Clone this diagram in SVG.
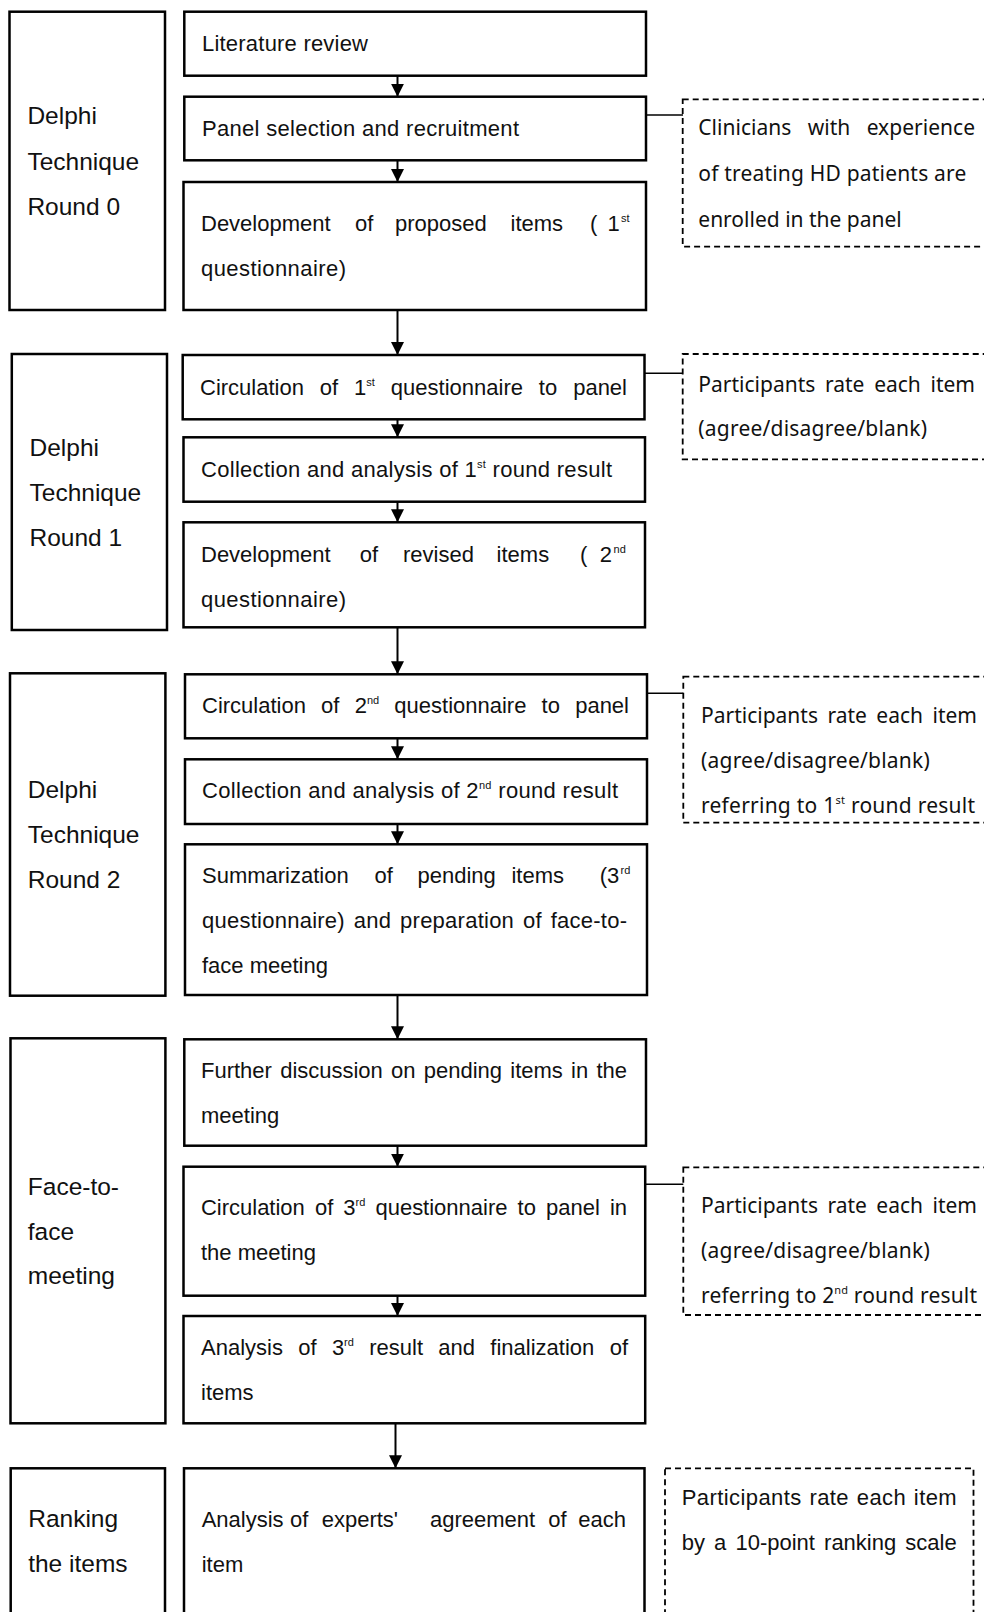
<svg xmlns="http://www.w3.org/2000/svg" width="984" height="1612" viewBox="0 0 984 1612">
<style>
.box{fill:#fff;stroke:#000;stroke-width:2.5}
.dash{fill:none;stroke:#000;stroke-width:1.8;stroke-dasharray:6 4}
.t{font-family:"Liberation Sans",Arial,sans-serif;font-size:22px;fill:#111}
.l{font-family:"Liberation Sans",Arial,sans-serif;font-size:24.5px;fill:#111}
.d{font-family:"Noto Sans","Liberation Sans",sans-serif;font-size:21px;fill:#111}
.sup{font-size:11px}
.arr{stroke:#000;stroke-width:2;fill:none;marker-end:url(#ah)}
.con{stroke:#000;stroke-width:1.5;fill:none}
</style>
<defs>
<marker id="ah" markerUnits="userSpaceOnUse" markerWidth="13" markerHeight="13" refX="13" refY="6.5" orient="auto">
<path d="M0,0 L13,6.5 L0,13 z" fill="#000"/>
</marker>
</defs>
<rect width="984" height="1612" fill="#fff"/>

<!-- Round 0 -->
<g id="label-round0">
<rect class="box" x="9.5" y="11.7" width="155.5" height="298.3"/>
<text class="l" x="27.4" y="124">Delphi</text>
<text class="l" x="27.4" y="170">Technique</text>
<text class="l" x="27.4" y="215">Round 0</text>
</g>
<g id="n-literature">
<rect class="box" x="184.3" y="11.7" width="461.7" height="64"/>
<text class="t" x="202" y="51" textLength="166" lengthAdjust="spacing">Literature review</text>
</g>
<g id="n-panel">
<rect class="box" x="184.3" y="96.7" width="461.7" height="63.6"/>
<text class="t" x="202" y="136" textLength="317" lengthAdjust="spacing">Panel selection and recruitment</text>
</g>
<g id="n-dev1">
<rect class="box" x="183.5" y="182" width="462.5" height="128"/>
<text class="t" y="231"><tspan x="201">Development</tspan><tspan x="355">of</tspan><tspan x="395">proposed</tspan><tspan x="510.5">items</tspan><tspan x="590">(</tspan><tspan x="607.6">1</tspan><tspan class="sup" x="621" y="222">st</tspan></text>
<text class="t" x="201" y="276" textLength="145" lengthAdjust="spacing">questionnaire)</text>
</g>
<g id="note-clinicians">
<rect class="dash" x="682.7" y="99.3" width="320" height="147.4"/>
<text class="d" x="698.3" y="135" word-spacing="10.9" textLength="276.7" lengthAdjust="spacing">Clinicians with experience</text>
<text class="d" x="698.3" y="181" textLength="268" lengthAdjust="spacing">of treating HD patients are</text>
<text class="d" x="698.3" y="226.7">enrolled in the panel</text>
</g>

<!-- Round 1 -->
<g id="label-round1">
<rect class="box" x="11.8" y="354" width="155.2" height="276"/>
<text class="l" x="29.5" y="456">Delphi</text>
<text class="l" x="29.5" y="500.7">Technique</text>
<text class="l" x="29.5" y="546">Round 1</text>
</g>
<g id="n-circ1">
<rect class="box" x="182.7" y="355" width="461.8" height="64.3"/>
<text class="t" x="200" y="395" word-spacing="9.8" textLength="427" lengthAdjust="spacing">Circulation of 1<tspan class="sup" dy="-9">st</tspan><tspan dy="9"> questionnaire to panel</tspan></text>
</g>
<g id="n-coll1">
<rect class="box" x="183.5" y="437.3" width="461.5" height="64.4"/>
<text class="t" x="201" y="476.7" textLength="411" lengthAdjust="spacing">Collection and analysis of 1<tspan class="sup" dy="-9">st</tspan><tspan dy="9"> round result</tspan></text>
</g>
<g id="n-dev2">
<rect class="box" x="183.5" y="522.3" width="461.5" height="105"/>
<text class="t" y="561.7"><tspan x="201">Development</tspan><tspan x="359.8">of</tspan><tspan x="403">revised</tspan><tspan x="496.6">items</tspan><tspan x="580">(</tspan><tspan x="599.7">2</tspan><tspan class="sup" x="613.6" y="552.7">nd</tspan></text>
<text class="t" x="201" y="606.7" textLength="145" lengthAdjust="spacing">questionnaire)</text>
</g>
<g id="note-round1">
<rect class="dash" x="682.7" y="354" width="320" height="105.3"/>
<text class="d" x="698.3" y="391.7" word-spacing="4.2" textLength="276.7" lengthAdjust="spacing">Participants rate each item</text>
<text class="d" x="698.3" y="435.5" textLength="228.7" lengthAdjust="spacing">(agree/disagree/blank)</text>
</g>

<!-- Round 2 -->
<g id="label-round2">
<rect class="box" x="10" y="673.3" width="155.4" height="322.4"/>
<text class="l" x="27.8" y="797.7">Delphi</text>
<text class="l" x="27.8" y="842.7">Technique</text>
<text class="l" x="27.8" y="887.7">Round 2</text>
</g>
<g id="n-circ2">
<rect class="box" x="185" y="674.3" width="462" height="64"/>
<text class="t" x="202" y="713.3" word-spacing="9.1" textLength="427" lengthAdjust="spacing">Circulation of 2<tspan class="sup" dy="-9">nd</tspan><tspan dy="9"> questionnaire to panel</tspan></text>
</g>
<g id="n-coll2">
<rect class="box" x="185" y="759.3" width="462" height="64.7"/>
<text class="t" x="202" y="798.3" textLength="416" lengthAdjust="spacing">Collection and analysis of 2<tspan class="sup" dy="-9">nd</tspan><tspan dy="9"> round result</tspan></text>
</g>
<g id="n-summ">
<rect class="box" x="185" y="844.3" width="462" height="150.7"/>
<text class="t" y="883.3"><tspan x="202">Summarization</tspan><tspan x="374.6">of</tspan><tspan x="417.5">pending</tspan><tspan x="511.4">items</tspan><tspan x="599.7">(3</tspan><tspan class="sup" x="620.5" y="874.3">rd</tspan></text>
<text class="t" x="202" y="928.3" word-spacing="2.5" textLength="425" lengthAdjust="spacing">questionnaire) and preparation of face-to-</text>
<text class="t" x="202" y="973.3">face meeting</text>
</g>
<g id="note-round2">
<rect class="dash" x="683.3" y="676.7" width="320" height="146"/>
<text class="d" x="701" y="723.3" word-spacing="4" textLength="276" lengthAdjust="spacing">Participants rate each item</text>
<text class="d" x="701" y="768.3" textLength="228.7" lengthAdjust="spacing">(agree/disagree/blank)</text>
<text class="d" x="701" y="813.3" textLength="274" lengthAdjust="spacing">referring to 1<tspan class="sup" dy="-9">st</tspan><tspan dy="9"> round result</tspan></text>
</g>

<!-- Face-to-face meeting -->
<g id="label-face">
<rect class="box" x="10.5" y="1038.3" width="154.9" height="385"/>
<text class="l" x="27.8" y="1195">Face-to-</text>
<text class="l" x="27.8" y="1240">face</text>
<text class="l" x="27.8" y="1284">meeting</text>
</g>
<g id="n-discuss">
<rect class="box" x="184.3" y="1039.3" width="461.7" height="106.4"/>
<text class="t" x="201" y="1078.3" word-spacing="2.1" textLength="426" lengthAdjust="spacing">Further discussion on pending items in the</text>
<text class="t" x="201" y="1123.3">meeting</text>
</g>
<g id="n-circ3">
<rect class="box" x="183.5" y="1166.7" width="461.7" height="129"/>
<text class="t" x="201" y="1215" word-spacing="4" textLength="426" lengthAdjust="spacing">Circulation of 3<tspan class="sup" dy="-9">rd</tspan><tspan dy="9"> questionnaire to panel in</tspan></text>
<text class="t" x="201" y="1260">the meeting</text>
</g>
<g id="n-final">
<rect class="box" x="183.5" y="1316" width="461.7" height="107.3"/>
<text class="t" x="201" y="1355" word-spacing="9.2" textLength="427" lengthAdjust="spacing">Analysis of 3<tspan class="sup" dy="-9">rd</tspan><tspan dy="9"> result and finalization of</tspan></text>
<text class="t" x="201" y="1400">items</text>
</g>
<g id="note-face">
<rect class="dash" x="683.3" y="1167.3" width="320" height="147.7"/>
<text class="d" x="701" y="1213.3" word-spacing="4" textLength="276" lengthAdjust="spacing">Participants rate each item</text>
<text class="d" x="701" y="1258.3" textLength="228.7" lengthAdjust="spacing">(agree/disagree/blank)</text>
<text class="d" x="701" y="1303.3" textLength="276" lengthAdjust="spacing">referring to 2<tspan class="sup" dy="-9">nd</tspan><tspan dy="9"> round result</tspan></text>
</g>

<!-- Ranking -->
<g id="label-ranking">
<rect class="box" x="10.7" y="1468.3" width="154.3" height="170"/>
<text class="l" x="28.2" y="1527.3">Ranking</text>
<text class="l" x="28.2" y="1571.7">the items</text>
</g>
<g id="n-agree">
<rect class="box" x="184" y="1468.3" width="460.5" height="170"/>
<text class="t" y="1527.3"><tspan x="201.7">Analysis</tspan><tspan x="290">of</tspan><tspan x="321.7">experts'</tspan><tspan x="430">agreement</tspan><tspan x="548.3">of</tspan><tspan x="578.3">each</tspan></text>
<text class="t" x="201.7" y="1571.7">item</text>
</g>
<g id="note-ranking">
<rect class="dash" x="665" y="1468.3" width="308.5" height="170"/>
<text class="t" x="681.7" y="1505" word-spacing="1.2" textLength="275" lengthAdjust="spacing">Participants rate each item</text>
<text class="t" x="681.7" y="1550" word-spacing="3" textLength="275" lengthAdjust="spacing">by a 10-point ranking scale</text>
</g>

<g id="connectors">
<line class="arr" x1="397.5" y1="75.7" x2="397.5" y2="96.7"/>
<line class="arr" x1="397.5" y1="160.3" x2="397.5" y2="182"/>
<line class="arr" x1="397.5" y1="310" x2="397.5" y2="355"/>
<line class="arr" x1="397.5" y1="419.3" x2="397.5" y2="437.3"/>
<line class="arr" x1="397.5" y1="501.7" x2="397.5" y2="522.3"/>
<line class="arr" x1="397.5" y1="627.3" x2="397.5" y2="674.3"/>
<line class="arr" x1="397.5" y1="738.3" x2="397.5" y2="759.3"/>
<line class="arr" x1="397.5" y1="824" x2="397.5" y2="844.3"/>
<line class="arr" x1="397.5" y1="995" x2="397.5" y2="1039.3"/>
<line class="arr" x1="397.5" y1="1145.7" x2="397.5" y2="1166.7"/>
<line class="arr" x1="397.5" y1="1295.7" x2="397.5" y2="1316"/>
<line class="arr" x1="395.5" y1="1423.3" x2="395.5" y2="1468.3"/>
<line class="con" x1="646" y1="115" x2="683" y2="115"/>
<line class="con" x1="644.5" y1="373.3" x2="683" y2="373.3"/>
<line class="con" x1="647" y1="693.3" x2="683.3" y2="693.3"/>
<line class="con" x1="645.2" y1="1184.3" x2="683.3" y2="1184.3"/>
</g>
</svg>
